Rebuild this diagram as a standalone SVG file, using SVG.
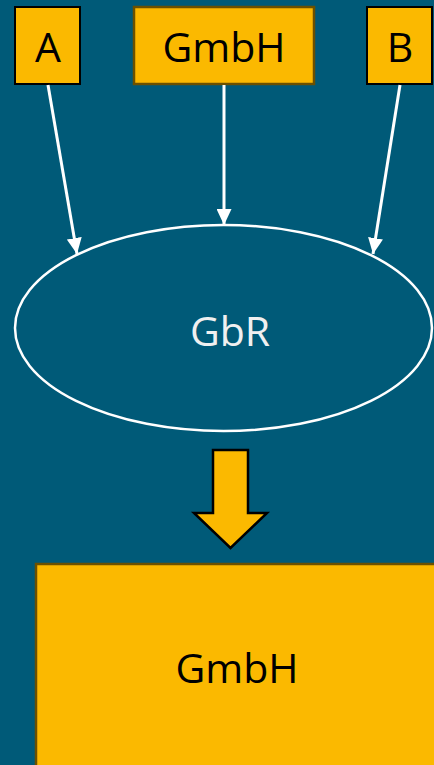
<svg xmlns="http://www.w3.org/2000/svg" width="434" height="765" viewBox="0 0 434 765">
<defs>
<style>
.box{fill:#fbb900;stroke:#000;stroke-width:2}
.gbox{fill:#fbb900;stroke:#6b5000;stroke-width:2.5}
.lbl{font-family:"Open Sans","Noto Sans",sans-serif;font-size:41px;fill:#000;text-anchor:middle}
.wl{fill:#f0f0f0}
.conn{stroke:#fff;stroke-width:3;fill:none}
</style>
<marker id="ah" viewBox="0 0 16 15" refX="16" refY="7.5" markerWidth="16" markerHeight="15" markerUnits="userSpaceOnUse" orient="auto">
<path d="M0,0 L16,7.5 L0,15 Z" fill="#fff"/>
</marker>
</defs>
<rect width="434" height="765" fill="#005a78"/>
<g id="nodeA">
<rect class="box" x="15" y="7" width="65" height="77"/>
<text class="lbl" x="48" y="62">A</text>
</g>
<g id="nodeGmbHTop">
<rect class="gbox" x="134" y="7" width="180" height="77"/>
<text class="lbl" x="224" y="62">GmbH</text>
</g>
<g id="nodeB">
<rect class="box" x="367" y="7" width="65" height="77"/>
<text class="lbl" x="400" y="62">B</text>
</g>
<g id="nodeGbR">
<ellipse cx="223.5" cy="328" rx="208.5" ry="103" fill="none" stroke="#fff" stroke-width="2.5"/>
<text class="lbl wl" x="230" y="346">GbR</text>
</g>
<g id="bigArrow">
<polygon points="213,450 248,450 248,513 267,513 230.5,548 194,513 213,513" fill="#fbb900" stroke="#000" stroke-width="2.5" stroke-linejoin="miter"/>
</g>
<g id="nodeGmbHBottom">
<rect class="gbox" x="36" y="564" width="410" height="215"/>
<text class="lbl" x="237" y="683">GmbH</text>
</g>
<g id="connectors">
<line class="conn" x1="48" y1="85" x2="77" y2="254" marker-end="url(#ah)"/>
<line class="conn" x1="224" y1="85" x2="224" y2="225" marker-end="url(#ah)"/>
<line class="conn" x1="400" y1="85" x2="373" y2="254" marker-end="url(#ah)"/>
</g>
</svg>
